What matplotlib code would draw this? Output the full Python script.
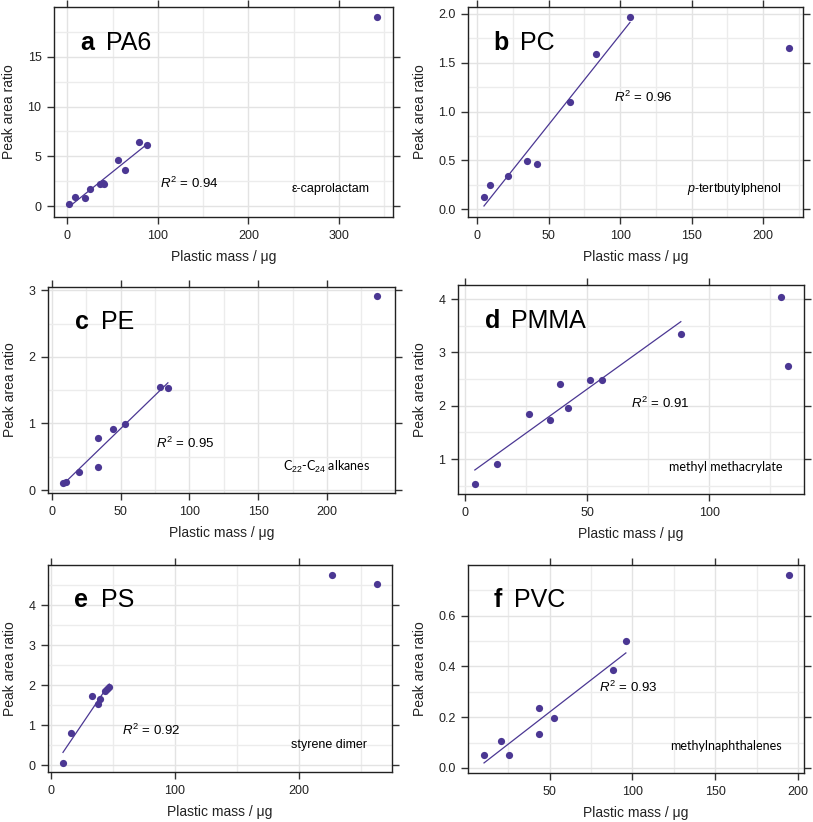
import numpy as np
import matplotlib
matplotlib.use("Agg")
import matplotlib.pyplot as plt
from matplotlib.ticker import MultipleLocator

plt.rcParams["font.family"] = ["Liberation Sans", "DejaVu Sans"]
plt.rcParams["mathtext.fontset"] = "custom"
plt.rcParams["mathtext.rm"] = "Liberation Sans"
plt.rcParams["mathtext.it"] = "Liberation Sans:italic"

# --- data (plastic mass in ug, peak area ratio) ---
pa6_mass = [2.2, 8.5, 19.5, 25, 36, 39, 41, 56, 64, 79.4, 88, 341.5]
pa6_ratio = [0.17, 0.9, 0.85, 1.7, 2.25, 2.3, 2.25, 4.6, 3.6, 6.4, 6.1, 19.0]

pc_mass = [4.7, 8.9, 21.7, 35, 42, 64.9, 83.1, 106.9, 218]
pc_ratio = [0.123, 0.253, 0.339, 0.493, 0.466, 1.10, 1.586, 1.966, 1.647]

pe_mass = [8, 10.2, 19.4, 33.4, 33.4, 44.3, 53.3, 78.2, 84.3, 236.3]
pe_ratio = [0.105, 0.115, 0.265, 0.786, 0.35, 0.916, 0.99, 1.547, 1.53, 2.91]

pmma_mass = [4.0, 13.1, 26.1, 34.9, 39, 42, 51.2, 56.1, 88.3, 129.3, 132.3]
pmma_ratio = [0.525, 0.90, 1.84, 1.725, 2.41, 1.96, 2.48, 2.49, 3.34, 4.04, 2.74]

ps_mass = [9.7, 15.9, 32.8, 37.9, 39.8, 43.5, 45.5, 47, 226.9, 263.2]
ps_ratio = [0.066, 0.80, 1.72, 1.53, 1.66, 1.86, 1.90, 1.95, 4.75, 4.53]

pvc_mass = [10.3, 20.4, 25.4, 43.3, 43.3, 52.4, 88.1, 96, 194.8]
pvc_ratio = [0.051, 0.105, 0.05, 0.236, 0.133, 0.197, 0.388, 0.50, 0.762]

# points above these masses are outside the linear range (not fitted)
fit_max = [90, 110, 90, 90, 50, 100]
r2_values = [0.94, 0.96, 0.95, 0.91, 0.92, 0.93]
letters = ["a", "b", "c", "d", "e", "f"]
polymers = ["PA6", "PC", "PE", "PMMA", "PS", "PVC"]
compounds = ["ε-caprolactam", "$\\it{p}$-tertbutylphenol", "C$_{22}$-C$_{24}$ alkanes",
             "methyl methacrylate", "styrene dimer", "methylnaphthalenes"]
compound_fonts = ["Liberation Sans", "Liberation Sans", "Lato", "Lato", "Liberation Sans", "Lato"]

xticks = [[0, 100, 200, 300], [0, 50, 100, 150, 200], [0, 50, 100, 150, 200],
          [0, 50, 100], [0, 100, 200], [50, 100, 150, 200]]
yticks = [[0, 5, 10, 15], [0.0, 0.5, 1.0, 1.5, 2.0], [0, 1, 2, 3],
          [1, 2, 3, 4], [0, 1, 2, 3, 4], [0.0, 0.2, 0.4, 0.6]]

masses = [pa6_mass, pc_mass, pe_mass, pmma_mass, ps_mass, pvc_mass]
ratios = [pa6_ratio, pc_ratio, pe_ratio, pmma_ratio, ps_ratio, pvc_ratio]

# --- layout (figure fractions) ---
boxes = [
    (0.0664, 0.736, 0.417, 0.2555),
    (0.5756, 0.736, 0.412, 0.2555),
    (0.059, 0.4002, 0.4268, 0.2506),
    (0.5633, 0.399, 0.4256, 0.254),
    (0.059, 0.0608, 0.423, 0.2518),
    (0.5756, 0.0596, 0.4133, 0.253),
]
xlims = [(-14.7, 359.6), (-6.5, 228), (-2.9, 249.4), (-2.9, 138.7), (-2.4, 275), (0.6, 203.6)]
ylims = [(-1.1, 20.0), (-0.079, 2.07), (-0.045, 3.05), (0.344, 4.26), (-0.166, 5.0), (-0.02, 0.80)]
yfmt = ["{:.0f}", "{:.1f}", "{:.0f}", "{:.0f}", "{:.0f}", "{:.1f}"]
r2_pos = [(0.314, 0.162), (0.436, 0.57), (0.311, 0.239), (0.50, 0.434), (0.215, 0.20), (0.389, 0.41)]
cmp_pos = [(0.931, 0.135), (0.937, 0.135), (0.928, 0.127), (0.937, 0.128), (0.928, 0.129), (0.935, 0.13)]

purple = "#4b3793"

fig = plt.figure(figsize=(8.13, 8.22), dpi=100)

for i in range(6):
    ax = fig.add_axes(boxes[i])
    x = np.array(masses[i])
    y = np.array(ratios[i])

    ax.set_xticks(xticks[i])
    ax.set_yticks(yticks[i])
    ax.set_yticklabels([yfmt[i].format(v) for v in yticks[i]])
    ax.xaxis.set_minor_locator(MultipleLocator((xticks[i][1] - xticks[i][0]) / 2))
    ax.yaxis.set_minor_locator(MultipleLocator((yticks[i][1] - yticks[i][0]) / 2))
    ax.set_xlim(*xlims[i])
    ax.set_ylim(*ylims[i])

    ax.grid(True, which="major", color="#e3e3e3", linewidth=1.0, zorder=0)
    ax.grid(True, which="minor", color="#ececec", linewidth=1.0, zorder=0)
    ax.set_axisbelow(True)

    ax.tick_params(which="major", direction="out", length=5, width=1, color="#333333",
                   top=True, right=True, labelsize=9, labelcolor="#222222", pad=4)
    ax.tick_params(which="minor", length=0)
    for s in ax.spines.values():
        s.set_linewidth(1.0)
        s.set_color("#222222")

    sel = x <= fit_max[i]
    k, b = np.polyfit(x[sel], y[sel], 1)
    xs = np.array([x[sel].min(), x[sel].max()])
    ax.plot(xs, k * xs + b, color=purple, linewidth=0.9, zorder=2)
    ax.plot(x, y, "o", color=purple, markersize=5.2, markeredgewidth=0, zorder=3)

    ax.set_xlabel("Plastic mass / μg", fontsize=10, labelpad=6, color="#222222")
    ax.set_ylabel("Peak area ratio", fontsize=10, labelpad=8, color="#222222")

    ax.text(0.077, 0.83, letters[i], transform=ax.transAxes, fontsize=18,
            fontweight="bold", ha="left", va="center")
    ax.text(0.077 + (0.077 if letters[i] != "f" else 0.06), 0.83, polymers[i],
            transform=ax.transAxes, fontsize=18, ha="left", va="center")
    ax.text(*r2_pos[i], "$\\it{R}^2$ = %.2f" % r2_values[i], transform=ax.transAxes,
            fontsize=9.5, ha="left", va="center")
    ax.text(*cmp_pos[i], compounds[i], transform=ax.transAxes, fontsize=9,
            family=compound_fonts[i], ha="right", va="center")

fig.savefig("out.png", dpi=100)
